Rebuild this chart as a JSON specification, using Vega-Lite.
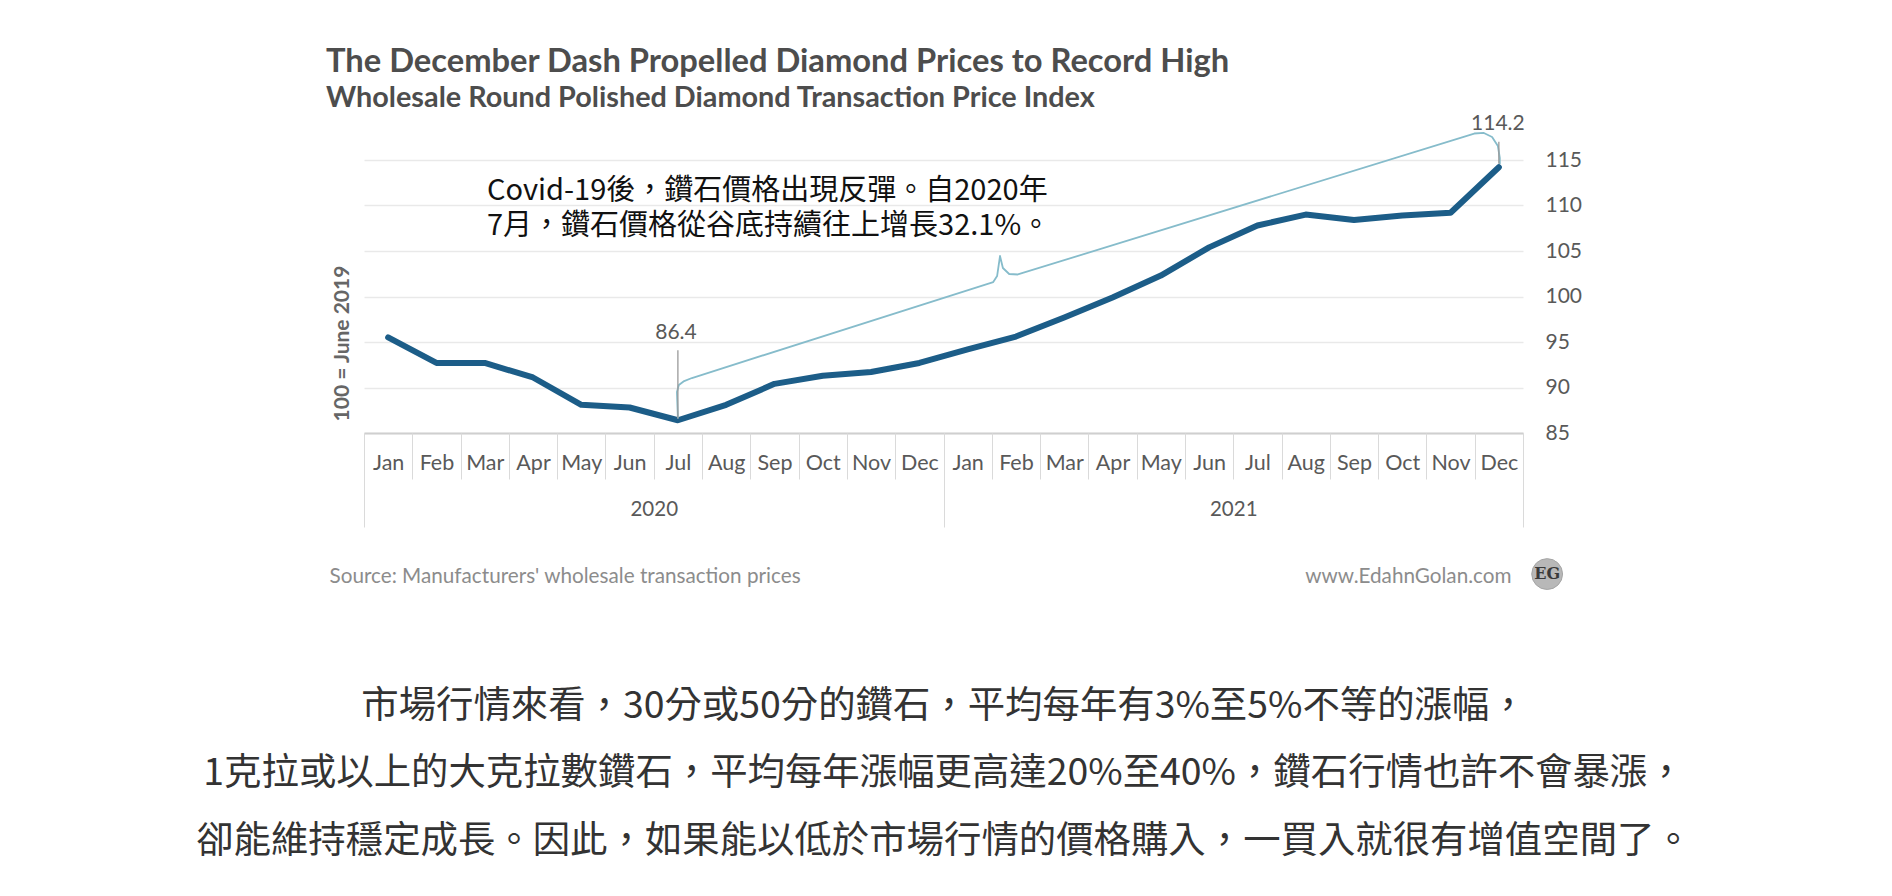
{
  "$schema": "https://vega.github.io/schema/vega-lite/v6.json",
  "width": 1159,
  "height": 273,
  "autosize": {"type": "none"},
  "padding": {"left": 364, "top": 160, "right": 369, "bottom": 463},
  "background": "white",
  "config": {"view": {"stroke": null}},
  "title": {
    "text": "The December Dash Propelled Diamond Prices to Record High",
    "subtitle": "Wholesale Round Polished Diamond Transaction Price Index",
    "anchor": "start",
    "frame": "group",
    "dx": -38,
    "offset": 0,
    "font": "Lato",
    "fontSize": 32.7,
    "fontWeight": "bold",
    "color": "#4d4d4d",
    "subtitleFont": "Lato",
    "subtitleFontSize": 28.8,
    "subtitleFontWeight": "bold",
    "subtitleColor": "#4d4d4d",
    "subtitlePadding": 5
  },
  "datasets": {
    "series": [
      {"month": "2020-01", "t": 0, "index": 95.5},
      {"month": "2020-02", "t": 1, "index": 92.7},
      {"month": "2020-03", "t": 2, "index": 92.7},
      {"month": "2020-04", "t": 3, "index": 91.1},
      {"month": "2020-05", "t": 4, "index": 88.1},
      {"month": "2020-06", "t": 5, "index": 87.8},
      {"month": "2020-07", "t": 6, "index": 86.4},
      {"month": "2020-08", "t": 7, "index": 88.1},
      {"month": "2020-09", "t": 8, "index": 90.4},
      {"month": "2020-10", "t": 9, "index": 91.3},
      {"month": "2020-11", "t": 10, "index": 91.7},
      {"month": "2020-12", "t": 11, "index": 92.7},
      {"month": "2021-01", "t": 12, "index": 94.2},
      {"month": "2021-02", "t": 13, "index": 95.6},
      {"month": "2021-03", "t": 14, "index": 97.7},
      {"month": "2021-04", "t": 15, "index": 99.9},
      {"month": "2021-05", "t": 16, "index": 102.3},
      {"month": "2021-06", "t": 17, "index": 105.4},
      {"month": "2021-07", "t": 18, "index": 107.8},
      {"month": "2021-08", "t": 19, "index": 109.0},
      {"month": "2021-09", "t": 20, "index": 108.4},
      {"month": "2021-10", "t": 21, "index": 108.9},
      {"month": "2021-11", "t": 22, "index": 109.2},
      {"month": "2021-12", "t": 23, "index": 114.2}
    ],
    "brace": [
      {"seq": 1, "t": 6.0, "v": 86.6},
      {"seq": 2, "t": 5.98, "v": 89.5},
      {"seq": 3, "t": 6.02, "v": 90.27},
      {"seq": 4, "t": 6.13, "v": 90.71},
      {"seq": 5, "t": 6.29, "v": 91.04},
      {"seq": 6, "t": 12.53, "v": 101.59},
      {"seq": 7, "t": 12.61, "v": 102.25},
      {"seq": 8, "t": 12.67, "v": 104.45},
      {"seq": 9, "t": 12.73, "v": 103.13},
      {"seq": 10, "t": 12.86, "v": 102.47},
      {"seq": 11, "t": 13.04, "v": 102.42},
      {"seq": 12, "t": 22.49, "v": 117.91},
      {"seq": 13, "t": 22.69, "v": 117.97},
      {"seq": 14, "t": 22.86, "v": 117.53},
      {"seq": 15, "t": 22.98, "v": 116.54},
      {"seq": 16, "t": 23.02, "v": 115.22},
      {"seq": 17, "t": 23.02, "v": 114.56}
    ],
    "markers": [
      {"t": 6, "from": 86.6, "to": 94.1},
      {"t": 23, "from": 114.6, "to": 117.0}
    ],
    "labels": [
      {"t": 5.96, "v": 95.96, "label": "86.4"},
      {"t": 22.98, "v": 118.96, "label": "114.2"}
    ],
    "note": [
      {"t": 2.047, "v": 110.6, "lines": ["Covid-19後，鑽石價格出現反彈。自2020年", "7月，鑽石價格從谷底持續往上增長32.1%。"]}
    ],
    "logo": [
      {"t": 24.0, "v": 69.5, "mark": "EG"}
    ]
  },
  "resolve": {
    "scale": {"x": "shared", "y": "shared"},
    "axis": {"x": "independent", "y": "independent"}
  },
  "layer": [
    {
      "data": {"name": "series"},
      "mark": {"type": "line", "color": "#1c5d88", "strokeWidth": 6, "strokeCap": "round", "strokeJoin": "round"},
      "encoding": {
        "x": {
          "field": "t", "type": "quantitative",
          "scale": {"domain": [-0.5, 23.5], "nice": false, "zero": false},
          "axis": {
            "orient": "bottom",
            "values": [0,1,2,3,4,5,6,7,8,9,10,11,12,13,14,15,16,17,18,19,20,21,22,23],
            "labelExpr": "['Jan','Feb','Mar','Apr','May','Jun','Jul','Aug','Sep','Oct','Nov','Dec'][datum.value % 12]",
            "labelFont": "Lato", "labelFontSize": 21.5, "labelColor": "#595959",
            "labelBaseline": "middle", "labelPadding": 30.5,
            "labelFlush": false, "labelOverlap": false, "labelBound": false,
            "ticks": false, "grid": false,
            "domain": true, "domainColor": "#cfcfcf", "domainWidth": 2,
            "title": ["市場行情來看，30分或50分的鑽石，平均每年有3%至5%不等的漲幅，", "1克拉或以上的大克拉數鑽石，平均每年漲幅更高達20%至40%，鑽石行情也許不會暴漲，", "卻能維持穩定成長。因此，如果能以低於市場行情的價格購入，一買入就很有增值空間了。"],
            "titleFont": "Noto Sans CJK TC", "titleFontSize": 37.4, "titleFontWeight": "normal",
            "titleColor": "#333333", "titleLineHeight": 67.5,
            "titleX": 579.5, "titleY": 284, "titleAlign": "center", "titleBaseline": "alphabetic"
          }
        },
        "y": {
          "field": "index", "type": "quantitative",
          "scale": {"domain": [85, 115], "nice": false, "zero": false},
          "axis": {
            "orient": "right",
            "values": [85, 90, 95, 100, 105, 110, 115],
            "labelFont": "Lato", "labelFontSize": 21, "labelColor": "#595959",
            "labelPadding": 22, "labelAlign": "left", "labelBaseline": "middle",
            "ticks": false, "domain": false,
            "grid": true, "gridColor": "#e9e9e9", "gridWidth": 1.5,
            "title": null
          }
        }
      }
    },
    {
      "data": {"name": "brace"},
      "mark": {"type": "line", "color": "#86bccb", "strokeWidth": 1.8, "strokeJoin": "round"},
      "encoding": {
        "x": {
          "field": "t", "type": "quantitative",
          "scale": {"domain": [-0.5, 23.5], "nice": false, "zero": false},
          "axis": {
            "orient": "bottom",
            "values": [-0.5,0.5,1.5,2.5,3.5,4.5,5.5,6.5,7.5,8.5,9.5,10.5,11.5,12.5,13.5,14.5,15.5,16.5,17.5,18.5,19.5,20.5,21.5,22.5,23.5],
            "labels": false, "domain": false, "grid": false,
            "ticks": true, "tickSize": 46, "tickColor": "#dadada", "tickWidth": 1,
            "title": "Source: Manufacturers' wholesale transaction prices",
            "titleFont": "Lato", "titleFontSize": 20.7, "titleFontWeight": "normal", "titleColor": "#8c8c8c",
            "titleX": -35, "titleY": 149, "titleAlign": "left", "titleBaseline": "alphabetic"
          }
        },
        "y": {
          "field": "v", "type": "quantitative",
          "scale": {"domain": [85, 115], "nice": false, "zero": false},
          "axis": {
            "orient": "left",
            "labels": false, "ticks": false, "domain": false, "grid": false,
            "title": "100 = June 2019",
            "titleFont": "Lato", "titleFontSize": 21, "titleFontWeight": "bold", "titleColor": "#666666",
            "titleX": -22, "titleY": 183, "titleAlign": "center", "titleBaseline": "middle", "titleAngle": -90
          }
        },
        "order": {"field": "seq", "type": "quantitative"}
      }
    },
    {
      "data": {"name": "markers"},
      "mark": {"type": "rule", "color": "#9a9a9a", "strokeWidth": 1.3},
      "encoding": {
        "x": {
          "field": "t", "type": "quantitative",
          "scale": {"domain": [-0.5, 23.5], "nice": false, "zero": false},
          "axis": {
            "orient": "bottom",
            "values": [5.5, 17.5],
            "labelExpr": "datum.value < 12 ? '2020' : '2021'",
            "labelFont": "Lato", "labelFontSize": 20.5, "labelColor": "#595959",
            "labelBaseline": "middle", "labelPadding": 76.5,
            "labelFlush": false, "labelOverlap": false, "labelBound": false,
            "ticks": false, "domain": false, "grid": false,
            "title": "www.EdahnGolan.com",
            "titleFont": "Lato", "titleFontSize": 20.7, "titleFontWeight": "normal", "titleColor": "#8c8c8c",
            "titleX": 1147, "titleY": 149, "titleAlign": "right", "titleBaseline": "alphabetic"
          }
        },
        "y": {
          "field": "from", "type": "quantitative",
          "scale": {"domain": [85, 115], "nice": false, "zero": false},
          "axis": null
        },
        "y2": {"field": "to"}
      }
    },
    {
      "data": {"name": "labels"},
      "mark": {"type": "text", "font": "Lato", "fontSize": 21, "color": "#595959", "align": "center", "baseline": "middle"},
      "encoding": {
        "x": {
          "field": "t", "type": "quantitative",
          "scale": {"domain": [-0.5, 23.5], "nice": false, "zero": false},
          "axis": {
            "orient": "bottom",
            "values": [-0.5, 11.5, 23.5],
            "labels": false, "domain": false, "grid": false,
            "ticks": true, "tickSize": 94, "tickColor": "#dadada", "tickWidth": 1,
            "title": null
          }
        },
        "y": {
          "field": "v", "type": "quantitative",
          "scale": {"domain": [85, 115], "nice": false, "zero": false},
          "axis": null
        },
        "text": {"field": "label", "type": "nominal"}
      }
    },
    {
      "data": {"name": "note"},
      "mark": {"type": "text", "font": "Noto Sans CJK TC", "fontSize": 29, "lineHeight": 35, "color": "#111111", "align": "left", "baseline": "alphabetic"},
      "encoding": {
        "x": {
          "field": "t", "type": "quantitative",
          "scale": {"domain": [-0.5, 23.5], "nice": false, "zero": false},
          "axis": null
        },
        "y": {
          "field": "v", "type": "quantitative",
          "scale": {"domain": [85, 115], "nice": false, "zero": false},
          "axis": null
        },
        "text": {"field": "lines", "type": "nominal"}
      }
    },
    {
      "data": {"name": "logo"},
      "mark": {"type": "circle", "size": 950, "color": "#b8b8b8", "opacity": 1, "stroke": "#a5a5a5", "strokeWidth": 1},
      "encoding": {
        "x": {
          "field": "t", "type": "quantitative",
          "scale": {"domain": [-0.5, 23.5], "nice": false, "zero": false},
          "axis": null
        },
        "y": {
          "field": "v", "type": "quantitative",
          "scale": {"domain": [85, 115], "nice": false, "zero": false},
          "axis": null
        }
      }
    },
    {
      "data": {"name": "logo"},
      "mark": {"type": "text", "font": "DejaVu Serif", "fontSize": 16, "fontWeight": "bold", "color": "#3a3a3a", "align": "center", "baseline": "middle"},
      "encoding": {
        "x": {
          "field": "t", "type": "quantitative",
          "scale": {"domain": [-0.5, 23.5], "nice": false, "zero": false},
          "axis": null
        },
        "y": {
          "field": "v", "type": "quantitative",
          "scale": {"domain": [85, 115], "nice": false, "zero": false},
          "axis": null
        },
        "text": {"field": "mark", "type": "nominal"}
      }
    }
  ]
}
